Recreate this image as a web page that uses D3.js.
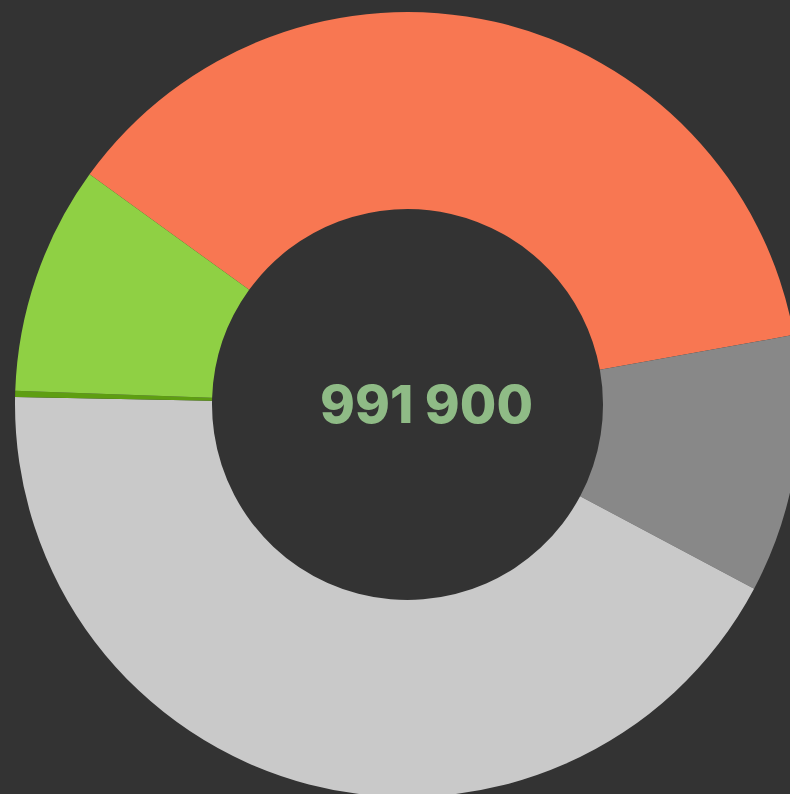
<!DOCTYPE html>
<html>
<head>
<meta charset="utf-8">
<script src="https://cdn.jsdelivr.net/npm/d3@7"></script>
<style>
  html, body { margin: 0; padding: 0; background: #333333; overflow: hidden; }
</style>
</head>
<body>
<div id="chart"></div>
<script>
const width = 790;
const height = 794;

// Slices, clockwise starting at the orange one
const categories = ["Orange", "Dark grey", "Light grey", "Dark green", "Green"];
const values = [368900, 105250, 421870, 2480, 93400];
const colors = ["#f87752", "#888888", "#c9c9c9", "#5e9e12", "#8fd044"];
const totalLabel = "991 900";

const cx = 407.5, cy = 404.5;
const outerR = 392.5, innerR = 195.5;
const startDeg = -54.1;

const svg = d3.select("#chart").append("svg")
  .attr("width", width)
  .attr("height", height)
  .style("background", "#333333");

const g = svg.append("g")
  .attr("transform", `translate(${cx},${cy})`);

const data = categories.map((c, i) => ({name: c, value: values[i], color: colors[i]}));

const pie = d3.pie()
  .sort(null)
  .value(d => d.value)
  .startAngle(startDeg * Math.PI / 180)
  .endAngle((startDeg + 360) * Math.PI / 180);

const arc = d3.arc()
  .innerRadius(innerR)
  .outerRadius(outerR);

g.selectAll("path")
  .data(pie(data))
  .join("path")
  .attr("d", arc)
  .attr("fill", d => d.data.color);

// Total in the middle
g.append("text")
  .attr("x", 19)
  .attr("y", 18)
  .attr("text-anchor", "middle")
  .attr("font-family", "Inter, 'Open Sans', sans-serif")
  .attr("font-weight", 800)
  .attr("font-size", 52)
  .attr("fill", "#8fbb86")
  .attr("textLength", 213)
  .attr("lengthAdjust", "spacingAndGlyphs")
  .text(totalLabel);
</script>
</body>
</html>
